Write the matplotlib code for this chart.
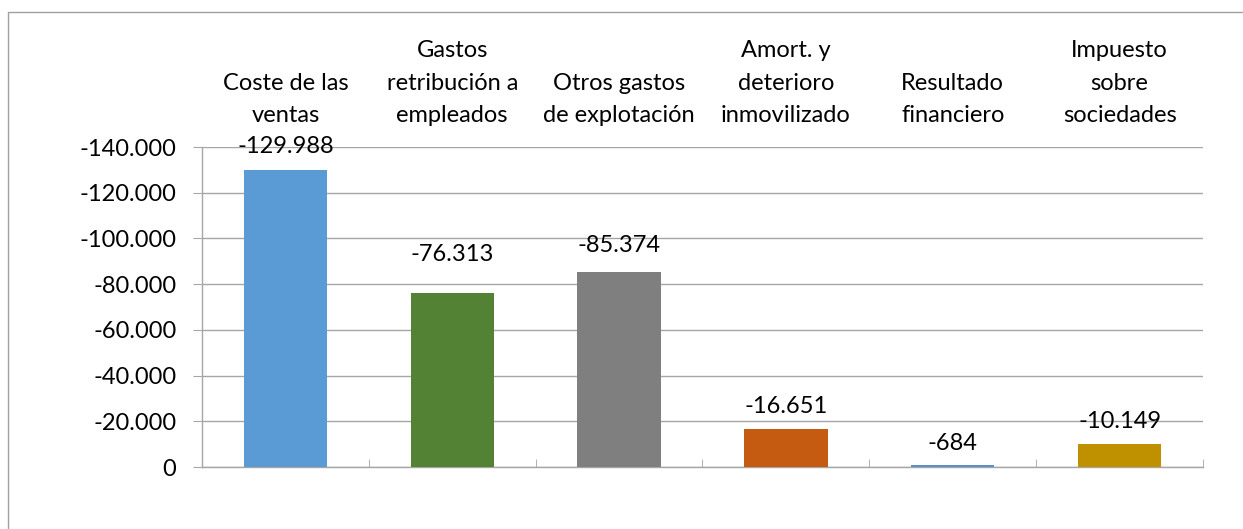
import matplotlib
matplotlib.use("Agg")
import matplotlib.pyplot as plt
from matplotlib.patches import Rectangle
from matplotlib.ticker import FuncFormatter, FixedLocator

categories = ["Coste de las\nventas", "Gastos\nretribución a\nempleados", "Otros gastos\nde explotación",
              "Amort. y\ndeterioro\ninmovilizado", "Resultado\nfinanciero", "Impuesto\nsobre\nsociedades"]
values = [-129988, -76313, -85374, -16651, -684, -10149]
colors = ["#5B9BD5", "#548235", "#7F7F7F", "#C55A11", "#5B8FC9", "#BF9000"]
label_offsets_px = [23, 38, 26, 22, 22, 22]

plt.rcParams['font.family'] = ['Lato', 'DejaVu Sans']
FS = 17
W, H = 1243, 529
fig = plt.figure(figsize=(W/100, H/100), dpi=100)
ax = fig.add_axes([202/W, 1-467/H, (1203-202)/W, (467-147)/H])

def fmt(v, pos=None):
    s = f"{abs(v):,.0f}".replace(",", ".")
    return ("-" + s) if v < 0 else s

x = list(range(len(values)))
ax.bar(x, values, width=0.5, color=colors, zorder=3)
ax.set_xlim(-0.5, len(values) - 0.5)
ax.set_ylim(0, -140000)
ax.set_yticks(range(0, -140001, -20000))
ax.yaxis.set_major_formatter(FuncFormatter(lambda v, p: fmt(v)))
ax.grid(axis='y', color='#A6A6A6', linewidth=1, zorder=0)

for xi, v, off in zip(x, values, label_offsets_px):
    ax.annotate(fmt(v), (xi, v), xytext=(0, off*0.72), textcoords='offset points',
                ha='center', va='center', fontsize=FS, zorder=4)

ax.set_xticks(x)
ax.set_xticklabels(categories, fontsize=FS, linespacing=1.68)
ax.xaxis.set_minor_locator(FixedLocator([i - 0.5 for i in range(len(values) + 1)]))
ax.tick_params(axis='x', which='major', length=0, top=True, bottom=False, labeltop=True, labelbottom=False, pad=15)
ax.tick_params(axis='x', which='minor', length=6, direction='in', bottom=True, top=False, color='#A6A6A6')
ax.tick_params(axis='y', length=6.5, color='#A6A6A6', labelsize=FS, pad=12)

for s in ['top', 'right']:
    ax.spines[s].set_visible(False)
for s in ['left', 'bottom']:
    ax.spines[s].set_color('#A6A6A6')
    ax.spines[s].set_linewidth(1)

fig.patches.append(Rectangle((8/W, -0.1), 1.2, 1.1 - 12/H, transform=fig.transFigure,
                             fill=False, edgecolor='#A0A0A0', linewidth=1))

fig.savefig("out.png", dpi=100)
